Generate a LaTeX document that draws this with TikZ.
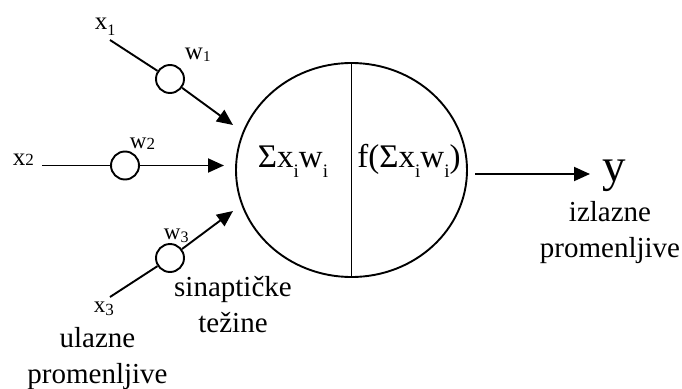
\documentclass[tikz,border=0pt]{standalone}
\usepackage{fontspec}
\setmainfont{Liberation Serif}
\usetikzlibrary{arrows.meta,shapes.geometric}
\newcommand\sbs[3]{\raisebox{-#1pt}{\fontsize{#2}{#2}\selectfont #3}}
\begin{document}
\begin{tikzpicture}[x=1pt,y=-1pt,line width=1.9pt,
  arr/.style={-{Triangle[length=16pt,width=14pt]}},
  wcirc/.style={circle,draw,minimum size=28pt,inner sep=0pt},
  lbl/.style={inner sep=0pt,anchor=base west},
  txt/.style={font=\fontsize{29}{36}\selectfont,align=center,inner sep=0pt,anchor=base},
  frm/.style={font=\fontsize{33}{33}\selectfont,inner sep=0pt,anchor=base}]
\useasboundingbox (0,0) rectangle (682,388);
% neuron
\node[ellipse,draw,minimum width=231pt,minimum height=214pt,inner sep=0pt] (n) at (351.5,170) {};
\draw[line width=1.6pt] (n.north) -- (n.south);
\node[frm] (sum) at (293,167) {Σx\sbs{10}{19}{i}w\sbs{10}{19}{i}};
\node[frm] (act) at (409,167) {f(Σx\sbs{10}{19}{i}w\sbs{10}{19}{i})};
% inputs
\coordinate (s1) at (110,40);
\node[wcirc] (w1) at (170,79) {};
\coordinate (e1) at (233,125);
\draw (s1) -- (w1);
\draw[arr] (w1) -- (e1);
\coordinate (s2) at (42,165.5);
\node[wcirc] (w2) at (125,165.5) {};
\coordinate (e2) at (224,165.5);
\draw (s2) -- (w2);
\draw[arr] (w2) -- (e2);
\coordinate (s3) at (110,297);
\node[wcirc] (w3) at (170,258) {};
\coordinate (e3) at (233,211);
\draw (s3) -- (w3);
\draw[arr] (w3) -- (e3);
% output
\coordinate (o) at (475,174);
\coordinate (oe) at (590,174);
\draw[arr] (o) -- (oe);
\node[lbl,font=\fontsize{47}{47}\selectfont] (y) at (602,181) {y};
% labels
\node[lbl,font=\fontsize{25}{25}\selectfont] (lx1) at (94,29) {x\sbs{6}{16}{1}};
\node[lbl,font=\fontsize{25}{25}\selectfont] (lw1) at (184,59) {w\sbs{2}{15}{1}};
\node[lbl,font=\fontsize{25}{25}\selectfont] (lx2) at (12,165) {x\sbs{0}{17}{2}};
\node[lbl,font=\fontsize{23}{23}\selectfont] (lw2) at (129,148) {w\sbs{1}{17}{2}};
\node[lbl,font=\fontsize{23}{23}\selectfont] (lw3) at (163,239) {w\sbs{3}{16}{3}};
\node[lbl,font=\fontsize{23}{23}\selectfont] (lx3) at (93,312) {x\sbs{3}{17}{3}};
% texts
\node[txt] (sin) at (233,332) {sinaptičke\\težine};
\node[txt] (ul) at (97.5,383) {ulazne\\promenljive};
\node[txt] (iz) at (610,257) {izlazne\\promenljive};
\end{tikzpicture}
\end{document}
